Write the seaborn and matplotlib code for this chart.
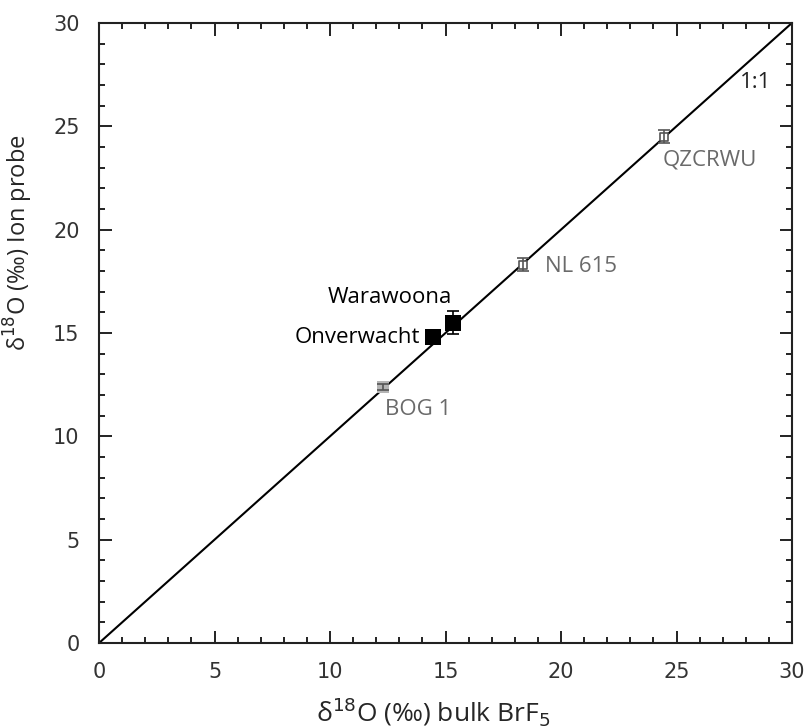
import matplotlib
matplotlib.use("Agg")
import matplotlib.pyplot as plt
import seaborn as sns
import pandas as pd
from matplotlib.ticker import MultipleLocator

# Data
samples = ["QZCRWU", "NL 615", "BOG 1", "Onverwacht", "Warawoona"]
bulk = [24.45, 18.35, 12.3, 14.47, 15.33]
ion = [24.5, 18.3, 12.4, 14.8, 15.5]
ion_err = [0.3, 0.32, 0.15, 0.0, 0.57]
kind = ["std", "std", "bog", "archean", "archean"]
line_x = [0, 30]
line_y = [0, 30]

df = pd.DataFrame({"sample": samples, "bulk": bulk, "ion": ion, "err": ion_err, "kind": kind})

sns.set_style("ticks")
plt.rcParams["font.family"] = ["DejaVu Sans"]

fig = plt.figure(figsize=(8.09, 7.27), dpi=100)
ax = fig.add_axes([0.1224, 0.1155, 0.8566, 0.853])

sns.lineplot(x=line_x, y=line_y, ax=ax, color="black", linewidth=1.5)

std = df[df["kind"] == "std"]
sns.scatterplot(data=std, x="bulk", y="ion", ax=ax, marker="s", s=38,
                facecolor="white", edgecolor="#555555", linewidth=1.2, zorder=4)
bog = df[df["kind"] == "bog"]
sns.scatterplot(data=bog, x="bulk", y="ion", ax=ax, marker="s", s=65,
                color="#b4b4b4", edgecolor="#b4b4b4", linewidth=0, zorder=2)
arc = df[df["kind"] == "archean"]
sns.scatterplot(data=arc, x="bulk", y="ion", ax=ax, marker="s", s=135,
                color="black", edgecolor="black", linewidth=0, zorder=4)

# error bars
for k, col in [("std", "#555555"), ("bog", "#555555"), ("archean", "black")]:
    sub = df[(df["kind"] == k) & (df["err"] > 0)]
    ax.errorbar(sub["bulk"], sub["ion"], yerr=sub["err"], fmt="none",
                ecolor=col, elinewidth=1.2, capsize=4, capthick=1.2, zorder=5)

# labels
gray = "#6a6a6a"
fs = 16
ax.text(24.4, 23.35, "QZCRWU", color=gray, fontsize=fs, ha="left", va="center", family="Open Sans")
ax.text(19.3, 18.2, "NL 615", color=gray, fontsize=fs, ha="left", va="center", family="Open Sans")
ax.text(12.4, 11.3, "BOG 1", color=gray, fontsize=fs, ha="left", va="center", family="Open Sans")
ax.text(13.9, 14.8, "Onverwacht", color="black", fontsize=fs, ha="right", va="center", family="Open Sans")
ax.text(15.28, 16.7, "Warawoona", color="black", fontsize=fs, ha="right", va="center", family="Open Sans")
ax.text(29.1, 27.1, "1:1", color="#222222", fontsize=fs, ha="right", va="center", family="Open Sans")

ax.set_xlim(0, 30)
ax.set_ylim(0, 30)
ax.xaxis.set_major_locator(MultipleLocator(5))
ax.yaxis.set_major_locator(MultipleLocator(5))
ax.xaxis.set_minor_locator(MultipleLocator(1))
ax.yaxis.set_minor_locator(MultipleLocator(1))
ax.tick_params(which="both", direction="in", top=True, right=True, width=1.4, colors="#222222",
               labelsize=15, labelcolor="#333333")
ax.tick_params(which="major", length=9, pad=14)
ax.tick_params(which="minor", length=4.5)
for sp in ax.spines.values():
    sp.set_visible(True)
    sp.set_linewidth(1.5)
    sp.set_color("#222222")

ax.set_xlabel(r"δ$^{18}$O (‰) bulk BrF$_5$", fontsize=19, family="Open Sans")
ax.set_ylabel(r"δ$^{18}$O (‰) Ion probe", fontsize=17, family="Open Sans")
ax.xaxis.set_label_coords(0.482, -0.085)
ax.yaxis.set_label_coords(-0.092, 0.645)

fig.savefig("out.png", dpi=100)
